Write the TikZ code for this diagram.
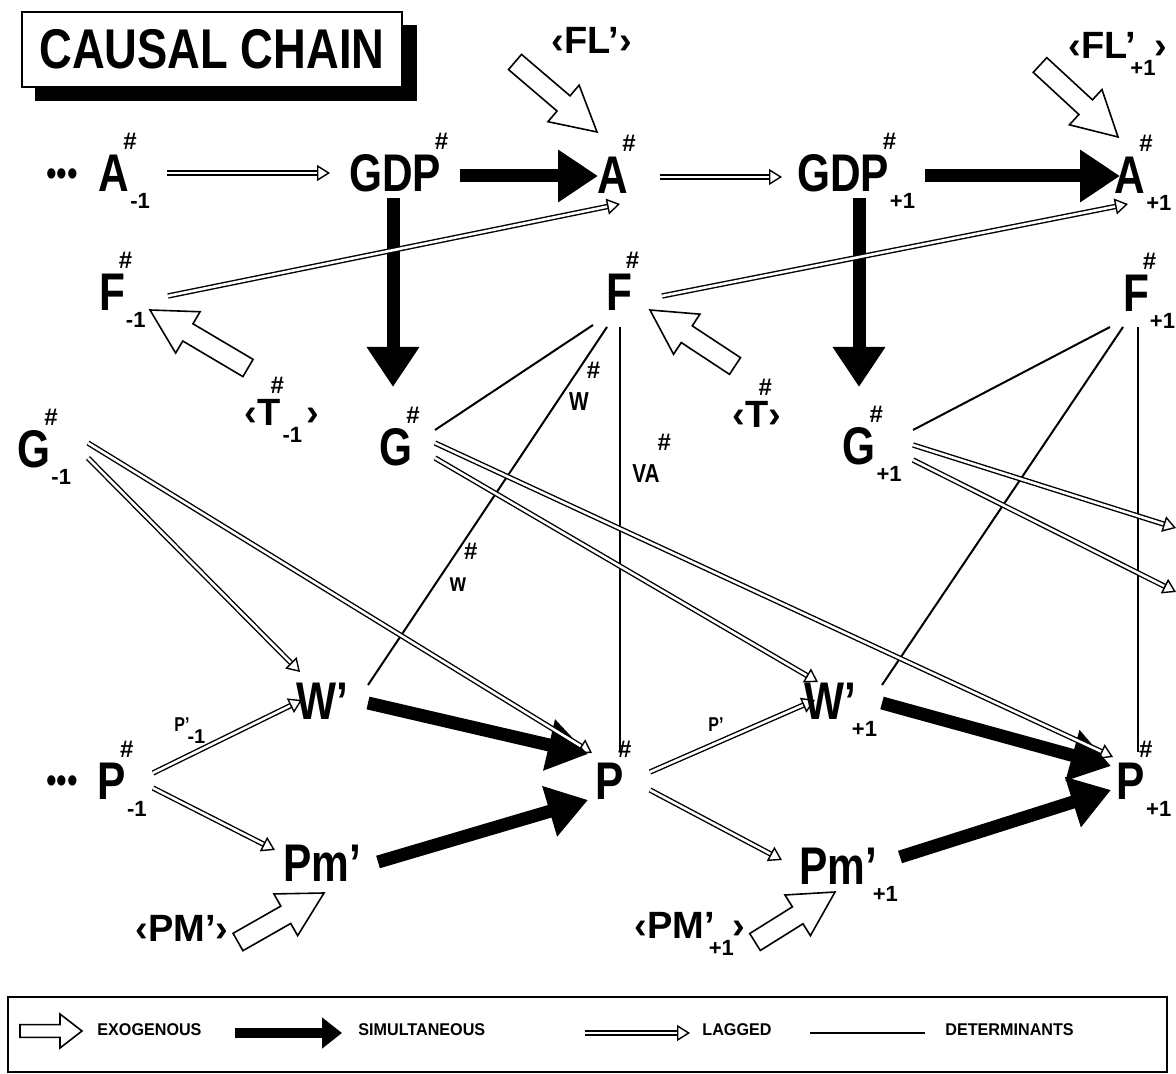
\documentclass[tikz,border=0pt]{standalone}
\usepackage{fontspec}
\setmainfont{Liberation Sans}
\usepackage{graphicx}
\usetikzlibrary{calc,arrows.meta}
\newcommand\cnd[1]{\scalebox{0.8}[1]{#1}}
\newcommand\bigf{\fontsize{26.5}{26.5}\selectfont\bfseries}
\newcommand\supf{\fontsize{12}{12}\selectfont\bfseries}
\newcommand\subf{\fontsize{11}{11}\selectfont\bfseries}
\newcommand\V[3]{\cnd{#1}\rlap{\kern-3pt\raisebox{21pt}[0pt][0pt]{\supf #2}}\rlap{\kern0.5pt\raisebox{-8.5pt}[0pt][0pt]{\subf #3}}}
\newcommand\SB[2]{\rlap{\kern#1\raisebox{-8.5pt}[0pt][0pt]{\subf #2}}}
\newcommand\SP[2]{\rlap{\kern#1\raisebox{16pt}[0pt][0pt]{\supf #2}}}
\newcommand\lag[2]{\draw[lagshaft] (#1) -- (#2); \draw[lagtip] ($(#2)!6.5pt!(#1)$) -- (#2);}
\newcommand\exo[5]{%
  \coordinate (xb) at ($(#2)!#5!(#1)$);
  \draw[exo] ($(#1)!#3!90:(#2)$) -- ($(xb)!#3!90:(#2)$) -- ($(xb)!#4!90:(#2)$) -- (#2)
    -- ($(xb)!#4!-90:(#2)$) -- ($(xb)!#3!-90:(#2)$) -- ($(#1)!#3!-90:(#2)$) -- cycle;}
\tikzset{
  lab/.style={inner sep=0pt, text height=19pt, text depth=0pt, font=\bigf},
  exl/.style={inner sep=0pt, text height=13.5pt, text depth=0pt, font=\fontsize{19}{19}\selectfont\bfseries},
  ann/.style={inner sep=0pt, font=\fontsize{13}{13}\selectfont\bfseries},
  sann/.style={inner sep=0pt, font=\fontsize{10}{10}\selectfont\bfseries},
  lagshaft/.style={line width=0.7pt, double, double distance=1.3pt, shorten >=6pt},
  lagtip/.style={line width=0.7pt, -{Triangle[open,length=6.5pt,width=8pt]}},
  sim/.style={line width=6.5pt, -{Triangle[length=20pt,width=25pt]}},
  det/.style={line width=1pt},
  exo/.style={draw, line width=0.8pt, fill=white, line join=miter},
  leg/.style={inner sep=0pt, anchor=west, font=\fontsize{8.5}{8.5}\selectfont\bfseries},
  dotsf/.style={inner sep=0pt, font=\fontsize{19}{19}\selectfont},
}
\begin{document}
\begin{tikzpicture}[x=0.5pt,y=-0.5pt]
\useasboundingbox (0,0) rectangle (1176,1074);
% title
\fill (35,25) rectangle (417,101);
\node[draw, line width=1.3pt, fill=white, minimum width=190pt, minimum height=37.5pt, inner sep=0pt,
  font=\fontsize{28}{28}\selectfont\bfseries] (title) at (212,49.5) {\scalebox{0.81}[1]{CAUSAL CHAIN}};

% main variables
\node[dotsf] (dots1) at (62,178) {\cnd{•••}};
\node[lab] (Am1) at (114,173) {\V{A}{\#}{-1}};
\node[lab] (GDP) at (395,173) {\V{GDP}{\#}{}};
\node[lab] (A) at (613,175) {\V{A}{\#}{}};
\node[lab] (GDPp) at (843,173) {\V{GDP}{\#}{+1}};
\node[lab] (Ap) at (1130,175) {\V{A}{\#}{+1}};
\node[lab] (Fm1) at (112,292) {\V{F}{\#}{-1}};
\node[lab] (F) at (619,292) {\V{F}{\#}{}};
\node[lab] (Fp) at (1136,293) {\V{F}{\#}{+1}};
\node[lab] (Gm1) at (34,448) {\V{G}{\#}{-1}};
\node[lab] (G) at (396,447) {\V{G}{\#}{}};
\node[lab] (Gp) at (859,446) {\V{G}{\#}{+1}};
\node[lab] (W) at (322,700) {\cnd{W'}};
\node[lab] (Wp) at (830,700) {\cnd{W'}\SB{-2pt}{+1}};
\node[dotsf] (dots2) at (62,785) {\cnd{•••}};
\node[lab] (Pm1) at (112,780) {\V{P}{\#}{-1}};
\node[lab] (P) at (610,780) {\V{P}{\#}{}};
\node[lab] (Pp) at (1131,780) {\V{P}{\#}{+1}};
\node[lab] (Pm) at (322,862) {\cnd{Pm'}};
\node[lab] (Pmp) at (838,865) {\cnd{Pm'}\SB{-2pt}{+1}};

% exogenous labels
\node[exl] (FL) at (592,40) {‹FL'›};
\node[exl] (FLp) at (1118,45) {‹FL'\SB{-3pt}{+1}\kern9pt›};
\node[exl] (Tm1) at (282,412) {‹T\SP{-5pt}{\#}\SB{1pt}{-1}\kern13pt›};
\node[exl] (T) at (757,414) {‹T\SP{-5pt}{\#}›};
\node[exl] (PM) at (182,928) {‹PM'›};
\node[exl] (PMp) at (690,925) {‹PM'\SB{-3pt}{+1}\kern9pt›};

% annotations
\node[ann] (lW) at (579,402) {\cnd{W}\SP{-1pt}{\#}};
\node[ann] (lw) at (458,585) {\cnd{w}\SP{-1pt}{\#}};
\node[ann] (lVA) at (646,474) {\cnd{VA}\SP{-1pt}{\#}};
\node[sann] (lPm1) at (182,725) {\cnd{P'}\rlap{\kern-1pt\raisebox{-6pt}[0pt][0pt]{-1}}};
\node[sann] (lP) at (716,725) {\cnd{P'}};

% simultaneous
\draw[sim] ($(GDP)+(65,3)$) -- ($(A)+(-15,1)$);
\draw[sim] ($(GDPp)+(82,3)$) -- ($(Ap)+(-10,1)$);
\draw[sim] ($(GDP)+(-2,25)$) -- ($(G)+(-3,-60)$);
\draw[sim] ($(GDPp)+(16,25)$) -- ($(Gp)+(0,-59)$);
\draw[sim] ($(W)+(46,3)$) -- ($(P)+(-22,-26)$);
\draw[sim] ($(Pm)+(56,0)$) -- ($(P)+(-22,20)$);
\draw[sim] ($(Wp)+(52,3)$) -- ($(Pp)+(-20,-14)$);
\draw[sim] ($(Pmp)+(62,-8)$) -- ($(Pp)+(-20,10)$);

% determinants
\draw[det] ($(G)+(39,-17)$) -- ($(F)+(-26,33)$);
\draw[det] ($(F)+(-12,35)$) -- ($(W)+(46,-15)$);
\draw[det] ($(F)+(1,35)$) -- ($(P)+(10,-28)$);
\draw[det] ($(Gp)+(54,-16)$) -- ($(Fp)+(-26,34)$);
\draw[det] ($(Fp)+(-13,34)$) -- ($(Wp)+(52,-15)$);
\draw[det] ($(Fp)+(2,34)$) -- ($(Pp)+(7,-28)$);

% lagged
\coordinate (l1a) at ($(Am1)+(53,0)$);   \coordinate (l1b) at ($(GDP)+(-65,0)$);
\coordinate (l2a) at ($(A)+(47,2)$);     \coordinate (l2b) at ($(GDPp)+(-61,4)$);
\coordinate (l3a) at ($(Fm1)+(56,4)$);   \coordinate (l3b) at ($(A)+(7,29)$);
\coordinate (l4a) at ($(F)+(43,4)$);     \coordinate (l4b) at ($(Ap)+(-2,29)$);
\coordinate (l5a) at ($(Gm1)+(54,10)$);  \coordinate (l5b) at ($(W)+(-22,-28)$);
\coordinate (l6a) at ($(Gm1)+(54,-5)$);  \coordinate (l6b) at ($(P)+(-18,-27)$);
\coordinate (l7a) at ($(G)+(39,11)$);    \coordinate (l7b) at ($(Wp)+(-12,-18)$);
\coordinate (l8a) at ($(G)+(39,-4)$);    \coordinate (l8b) at ($(Pp)+(-18,-23)$);
\coordinate (l9a) at ($(Gp)+(54,-1)$);   \coordinate (l9b) at (1176,528);
\coordinate (l10a) at ($(Gp)+(54,14)$);  \coordinate (l10b) at (1176,592);
\coordinate (l11a) at ($(Pm1)+(41,-7)$); \coordinate (l11b) at ($(W)+(-20,0)$);
\coordinate (l12a) at ($(Pm1)+(41,8)$);  \coordinate (l12b) at ($(Pm)+(-47,-12)$);
\coordinate (l13a) at ($(P)+(40,-8)$);   \coordinate (l13b) at ($(Wp)+(-15,0)$);
\coordinate (l14a) at ($(P)+(40,10)$);   \coordinate (l14b) at ($(Pmp)+(-56,-5)$);
\lag{l1a}{l1b} \lag{l2a}{l2b} \lag{l3a}{l3b} \lag{l4a}{l4b}
\lag{l5a}{l5b} \lag{l6a}{l6b} \lag{l7a}{l7b} \lag{l8a}{l8b}
\lag{l9a}{l9b} \lag{l10a}{l10b} \lag{l11a}{l11b} \lag{l12a}{l12b}
\lag{l13a}{l13b} \lag{l14a}{l14b}

% exogenous arrows
\coordinate (e1a) at ($(FL)+(-77,22)$);   \coordinate (e1b) at ($(A)+(-16,-43)$);
\coordinate (e2a) at ($(FLp)+(-78,20)$);  \coordinate (e2b) at ($(Ap)+(-12,-38)$);
\coordinate (e3a) at ($(Tm1)+(-34,-44)$); \coordinate (e3b) at ($(Fm1)+(38,18)$);
\coordinate (e4a) at ($(T)+(-22,-48)$);   \coordinate (e4b) at ($(F)+(31,18)$);
\coordinate (e5a) at ($(PM)+(56,14)$);    \coordinate (e5b) at ($(Pm)+(2,31)$);
\coordinate (e6a) at ($(PMp)+(65,17)$);   \coordinate (e6b) at ($(Pmp)+(-3,27)$);
\exo{e1a}{e1b}{5pt}{12pt}{22pt}
\exo{e2a}{e2b}{5pt}{12pt}{22pt}
\exo{e3a}{e3b}{5pt}{12pt}{22pt}
\exo{e4a}{e4b}{5pt}{12pt}{22pt}
\exo{e5a}{e5b}{5pt}{12pt}{22pt}
\exo{e6a}{e6b}{5pt}{12pt}{22pt}

% legend
\node[draw, line width=1.3pt, minimum width=579.5pt, minimum height=37.5pt, inner sep=0pt] (legend) at (587.5,1034.5) {};
\coordinate (gx1) at (20,1031); \coordinate (gx2) at (82,1031);
\exo{gx1}{gx2}{3.2pt}{8.5pt}{11pt}
\node[leg] (tx) at (97,1030) {\scalebox{0.95}[1]{EXOGENOUS}};
\coordinate (gs1) at (235,1033); \coordinate (gs2) at (342,1033);
\draw[line width=5pt, -{Triangle[length=10pt,width=15pt]}] (gs1) -- (gs2);
\node[leg] (ts) at (358,1030) {\scalebox{0.95}[1]{SIMULTANEOUS}};
\coordinate (gl1) at (585,1033); \coordinate (gl2) at (690,1033);
\lag{gl1}{gl2}
\node[leg] (tl) at (702,1030) {\scalebox{0.95}[1]{LAGGED}};
\coordinate (gd1) at (810,1033); \coordinate (gd2) at (925,1033);
\draw[det] (gd1) -- (gd2);
\node[leg] (td) at (945,1030) {\scalebox{0.95}[1]{DETERMINANTS}};
\end{tikzpicture}
\end{document}
